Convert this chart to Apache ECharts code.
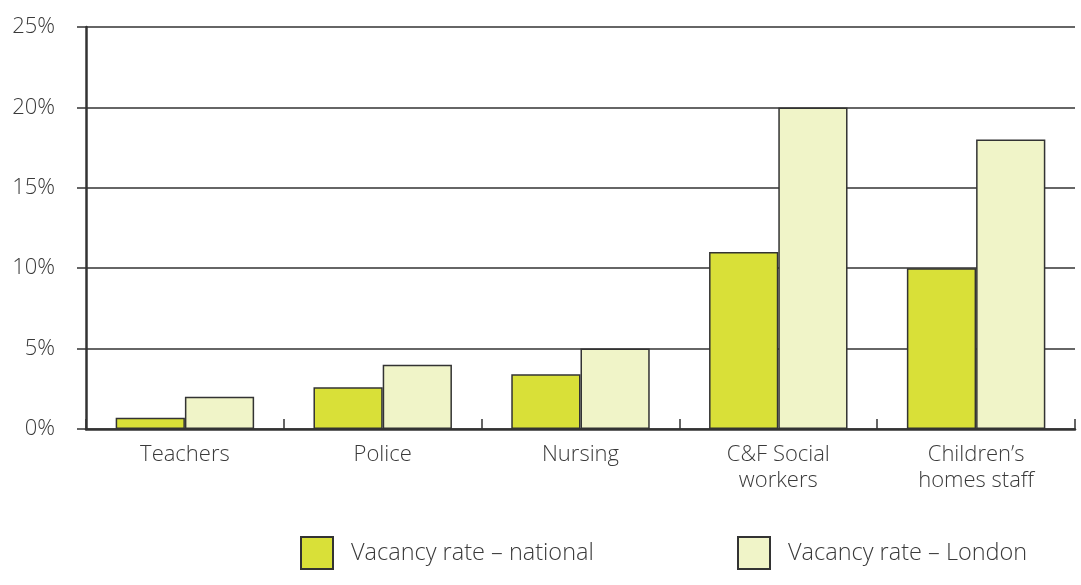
<!DOCTYPE html>
<html>
<head>
<meta charset="utf-8">
<script src="https://cdn.jsdelivr.net/npm/echarts@6/dist/echarts.min.js"></script>
<style>
  html, body { margin: 0; padding: 0; background: #fff; }
  #chart { width: 1081px; height: 585px; }
</style>
</head>
<body>
<div id="chart"></div>
<script>
  // vacancy rates, in percent
  var categories = ['Teachers', 'Police', 'Nursing', 'C&F Social\nworkers', 'Children\u2019s\nhomes staff']
  var nationalRate = [0.7, 2.6, 3.4, 11, 10]
  var londonRate = [2, 4, 5, 20, 18]
  var seriesNames = ['Vacancy rate \u2013 national', 'Vacancy rate \u2013 London']

  var ink = '#333333'
  var textInk = '#3a3a3a'
  var font = 'Open Sans'

  var chart = echarts.init(document.getElementById('chart'))
  chart.setOption({
    animation: false,
    textStyle: { fontFamily: font, fontWeight: 300 },
    grid: { left: 86, right: 6, top: 27, bottom: 156 },
    legend: [{
      left: 295,
      top: 531,
      itemWidth: 32,
      itemHeight: 32,
      icon: 'rect',
      data: [seriesNames[0]],
      textStyle: { fontSize: 23.5, fontWeight: 300, color: textInk, padding: [4, 0, 0, 13] }
    }, {
      left: 732,
      top: 531,
      itemWidth: 32,
      itemHeight: 32,
      icon: 'rect',
      data: [seriesNames[1]],
      textStyle: { fontSize: 23.5, fontWeight: 300, color: textInk, padding: [4, 0, 0, 13] }
    }],
    xAxis: {
      type: 'category',
      data: categories,
      axisLine: { lineStyle: { color: ink, width: 2.5 } },
      axisTick: { show: true, inside: true, length: 10, lineStyle: { color: ink, width: 1.5 } },
      axisLabel: { fontSize: 22, fontWeight: 300, color: textInk, margin: 13, lineHeight: 26, interval: 0 }
    },
    yAxis: {
      type: 'value',
      min: 0,
      max: 25,
      interval: 5,
      axisLine: { show: true, lineStyle: { color: ink, width: 2.5 } },
      axisTick: { show: true, length: 9, lineStyle: { color: ink, width: 1.5 } },
      axisLabel: { fontSize: 22, fontWeight: 300, color: textInk, margin: 31, formatter: '{value}%' },
      splitLine: { lineStyle: { color: ink, width: 1.5 } }
    },
    series: [{
      name: seriesNames[0],
      type: 'bar',
      data: nationalRate,
      barGap: '0%',
      barCategoryGap: '30%',
      itemStyle: { color: '#d9e038', borderColor: ink, borderWidth: 1.5 }
    }, {
      name: seriesNames[1],
      type: 'bar',
      data: londonRate,
      itemStyle: { color: '#f0f4c8', borderColor: ink, borderWidth: 1.5 }
    }]
  })
</script>
</body>
</html>
